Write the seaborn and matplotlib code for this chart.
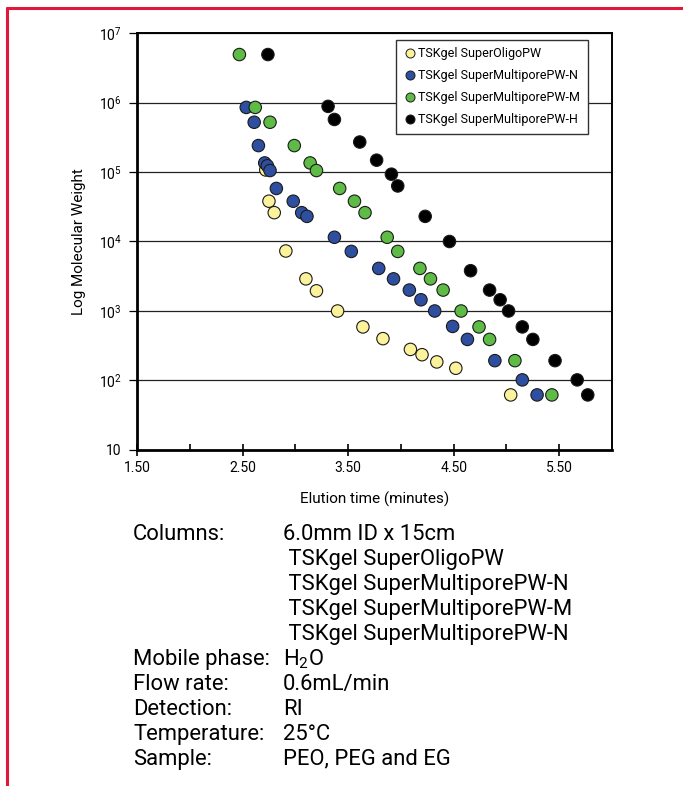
import numpy as np
import pandas as pd
import seaborn as sns
import matplotlib.pyplot as plt
from matplotlib.lines import Line2D
from matplotlib.ticker import FixedLocator

# -------------------------------
# Data
# -------------------------------
series_names = [
    "TSKgel SuperOligoPW",
    "TSKgel SuperMultiporePW-N",
    "TSKgel SuperMultiporePW-M",
    "TSKgel SuperMultiporePW-H",
]

oligo_time = [2.72, 2.75, 2.80, 2.91, 3.10, 3.20, 3.40, 3.64, 3.83, 4.09, 4.20, 4.34, 4.52, 5.04]
oligo_mw = [1.07e5, 3.8e4, 2.6e4, 7.3e3, 2.9e3, 1.95e3, 1000, 590, 400, 280, 235, 185, 150, 62]

pwn_time = [2.535, 2.61, 2.65, 2.71, 2.735, 2.76, 2.82, 2.98, 3.06, 3.11, 3.37, 3.53,
            3.79, 3.93, 4.08, 4.19, 4.32, 4.49, 4.63, 4.89, 5.15, 5.29]
pwn_mw = [8.5e5, 5.2e5, 2.4e5, 1.35e5, 1.23e5, 1.05e5, 5.8e4, 3.8e4, 2.6e4, 2.3e4, 1.15e4, 7.2e3,
          4.1e3, 2.9e3, 2.0e3, 1.45e3, 1000, 600, 390, 193, 102, 62]

pwm_time = [2.47, 2.62, 2.76, 2.99, 3.14, 3.20, 3.42, 3.56, 3.66, 3.87, 3.97, 4.18,
            4.28, 4.40, 4.57, 4.74, 4.84, 5.08, 5.43]
pwm_mw = [4.9e6, 8.5e5, 5.2e5, 2.4e5, 1.35e5, 1.05e5, 5.8e4, 3.8e4, 2.6e4, 1.15e4, 7.2e3, 4.1e3,
          2.9e3, 2.0e3, 1000, 590, 390, 193, 62]

pwh_time = [2.74, 3.31, 3.37, 3.61, 3.77, 3.91, 3.97, 4.23, 4.46, 4.66, 4.84, 4.94,
            5.02, 5.15, 5.25, 5.46, 5.67, 5.77]
pwh_mw = [4.9e6, 8.8e5, 5.7e5, 2.7e5, 1.48e5, 9.3e4, 6.3e4, 2.3e4, 1.0e4, 3.8e3, 2.0e3, 1.45e3,
          1000, 590, 390, 193, 102, 62]

colors = ["#FBF29B", "#2E4FA0", "#5DBB46", "#000000"]

x_ticks = [1.5, 2.5, 3.5, 4.5, 5.5]
x_tick_labels = ["1.50", "2.50", "3.50", "4.50", "5.50"]
y_ticks = [1e1, 1e2, 1e3, 1e4, 1e5, 1e6, 1e7]
y_tick_labels = ["10", "$10^{2}$", "$10^{3}$", "$10^{4}$", "$10^{5}$", "$10^{6}$", "$10^{7}$"]

conditions = [
    ("Columns:", "6.0mm ID x 15cm"),
    ("", " TSKgel SuperOligoPW"),
    ("", " TSKgel SuperMultiporePW-N"),
    ("", " TSKgel SuperMultiporePW-M"),
    ("", " TSKgel SuperMultiporePW-N"),
    ("Mobile phase:", "H$_{2}$O"),
    ("Flow rate:", "0.6mL/min"),
    ("Detection:", "RI"),
    ("Temperature:", "25°C"),
    ("Sample:", "PEO, PEG and EG"),
]

# -------------------------------
# Build long-form table
# -------------------------------
frames = []
for name, t, mw in zip(series_names,
                       [oligo_time, pwn_time, pwm_time, pwh_time],
                       [oligo_mw, pwn_mw, pwm_mw, pwh_mw]):
    frames.append(pd.DataFrame({"time": t, "mw": mw, "column": name}))
df = pd.concat(frames, ignore_index=True)

# -------------------------------
# Plot
# -------------------------------
sns.set_style("white")
plt.rcParams["font.family"] = ["Roboto", "DejaVu Sans"]
plt.rcParams["mathtext.default"] = "regular"
plt.rcParams["text.color"] = "black"
plt.rcParams["axes.labelcolor"] = "black"
plt.rcParams["xtick.color"] = "black"
plt.rcParams["ytick.color"] = "black"

fig = plt.figure(figsize=(6.83, 7.86), dpi=100)
ax = fig.add_axes([0.2006, 0.4275, 0.6955, 0.5305])

ax.set_yscale("log")
for yv in y_ticks[1:]:
    ax.axhline(yv, color="#222222", lw=0.9, zorder=0)

sns.scatterplot(data=df, x="time", y="mw", hue="column", hue_order=series_names,
                palette=colors, s=80, edgecolor="#1a1a1a", linewidth=0.8,
                legend=False, ax=ax, zorder=3)

ax.set_xlim(1.5, 6.0)
ax.set_ylim(10, 1e7)
ax.xaxis.set_major_locator(FixedLocator(x_ticks))
ax.set_xticklabels(x_tick_labels)
ax.xaxis.set_minor_locator(FixedLocator([2.0, 3.0, 4.0, 5.0]))
ax.yaxis.set_major_locator(FixedLocator(y_ticks))
ax.yaxis.set_minor_locator(FixedLocator([]))
ax.set_yticklabels(y_tick_labels)

ax.tick_params(axis="x", which="major", direction="inout", length=8, width=1.2,
               labelsize=10, pad=4, bottom=True)
ax.tick_params(axis="x", which="minor", direction="in", length=4, width=1.2, bottom=True)
ax.tick_params(axis="y", which="major", direction="out", length=6, width=0.9,
               labelsize=10, pad=5, left=True)

for side in ["left", "bottom"]:
    ax.spines[side].set_linewidth(2.0)
for side in ["top", "right"]:
    ax.spines[side].set_linewidth(1.4)
for sp in ax.spines.values():
    sp.set_color("black")

ax.set_xlabel("Elution time (minutes)", fontsize=11, labelpad=12)
ax.set_ylabel("Log Molecular Weight", fontsize=11, labelpad=9)

handles = [Line2D([], [], marker="o", ls="", markersize=6.5, markerfacecolor=c,
                  markeredgecolor="#1a1a1a", markeredgewidth=0.7) for c in colors]
leg = ax.legend(handles, series_names, loc="upper left", bbox_to_anchor=(0.545, 0.984),
                fontsize=9, frameon=True, fancybox=False, framealpha=1,
                edgecolor="#333333", labelspacing=0.72, handletextpad=0.2,
                handlelength=1.0, borderpad=0.6, borderaxespad=0)
leg.get_frame().set_linewidth(1.0)

# -------------------------------
# Conditions text block
# -------------------------------
y0 = 1 - 535 / 786
step = 24.9 / 786
for i, (label, value) in enumerate(conditions):
    yy = y0 - i * step
    if label:
        fig.text(133 / 683, yy, label, fontsize=15.8, va="center", ha="left")
    fig.text(283 / 683, yy, value, fontsize=15.8, va="center", ha="left")

# Red frame lines
red = "#E2183A"
fig.add_artist(Line2D([7 / 683, 1.0], [1 - 8 / 786, 1 - 8 / 786], color=red, lw=2.2,
                      transform=fig.transFigure))
fig.add_artist(Line2D([7 / 683, 7 / 683], [1 - 8 / 786, 0.0], color=red, lw=2.2,
                      transform=fig.transFigure))

fig.savefig("out.png", dpi=100)
